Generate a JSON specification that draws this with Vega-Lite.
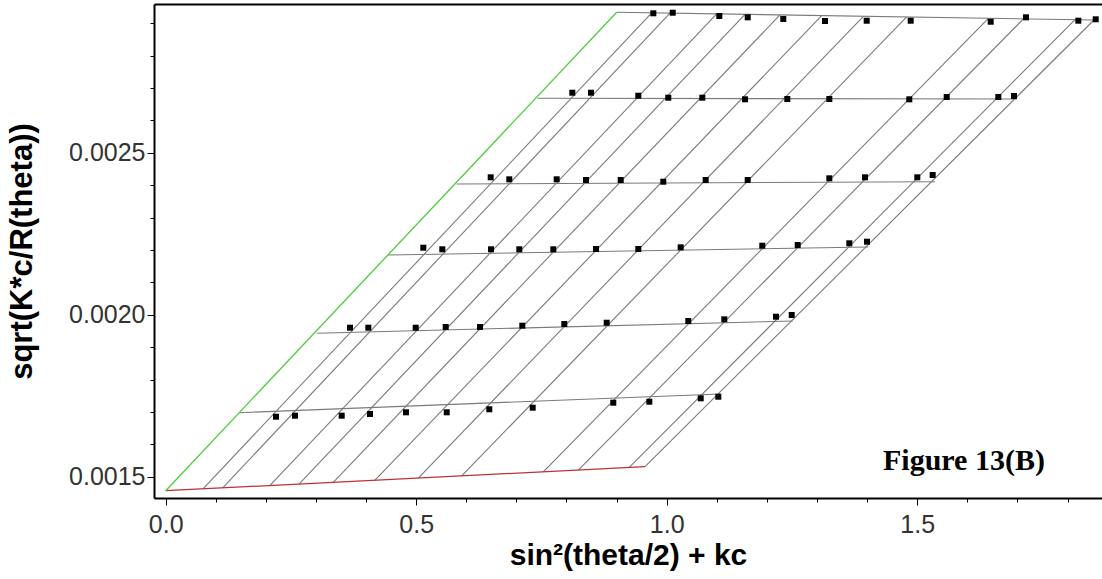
{
  "$schema": "https://vega.github.io/schema/vega-lite/v6.json",
  "width": 948,
  "height": 494,
  "autosize": {"type": "none"},
  "padding": {"left": 154, "top": 4, "right": 0, "bottom": 81},
  "background": "white",
  "config": {
    "view": {"stroke": null},
    "axis": {
      "grid": false,
      "domainColor": "black",
      "domainWidth": 2,
      "tickColor": "black",
      "tickWidth": 1,
      "labelFont": "Liberation Sans",
      "labelFontSize": 25,
      "labelColor": "#333333",
      "labelFlush": false,
      "labelOverlap": false,
      "titleFont": "Liberation Sans",
      "titleFontSize": 30,
      "titleFontWeight": "bold",
      "titleColor": "black"
    }
  },
  "datasets": {
    "lines": [
      {"g": "r1", "k": "grid", "x": 0.9002, "y": 0.0029339},
      {"g": "r1", "k": "grid", "x": 1.8529, "y": 0.0029101},
      {"g": "r2", "k": "grid", "x": 0.7425, "y": 0.0026684},
      {"g": "r2", "k": "grid", "x": 1.6986, "y": 0.0026663},
      {"g": "r3", "k": "grid", "x": 0.5808, "y": 0.0024039},
      {"g": "r3", "k": "grid", "x": 1.5355, "y": 0.002411},
      {"g": "r4", "k": "grid", "x": 0.4443, "y": 0.0021848},
      {"g": "r4", "k": "grid", "x": 1.4024, "y": 0.0022095},
      {"g": "r5", "k": "grid", "x": 0.3014, "y": 0.0019431},
      {"g": "r5", "k": "grid", "x": 1.2515, "y": 0.0019811},
      {"g": "r6", "k": "grid", "x": 0.1469, "y": 0.0016981},
      {"g": "r6", "k": "grid", "x": 1.1064, "y": 0.0017558},
      {"g": "a01", "k": "grid", "x": 0.0745, "y": 0.0014631},
      {"g": "a01", "k": "grid", "x": 0.9701, "y": 0.0029322},
      {"g": "a02", "k": "grid", "x": 0.1138, "y": 0.0014661},
      {"g": "a02", "k": "grid", "x": 1.0066, "y": 0.0029312},
      {"g": "a03", "k": "grid", "x": 0.2082, "y": 0.0014734},
      {"g": "a03", "k": "grid", "x": 1.0998, "y": 0.0029289},
      {"g": "a04", "k": "grid", "x": 0.2661, "y": 0.0014779},
      {"g": "a04", "k": "grid", "x": 1.1563, "y": 0.0029275},
      {"g": "a05", "k": "grid", "x": 0.3345, "y": 0.0014832},
      {"g": "a05", "k": "grid", "x": 1.2261, "y": 0.0029258},
      {"g": "a06", "k": "grid", "x": 0.4178, "y": 0.0014897},
      {"g": "a06", "k": "grid", "x": 1.3094, "y": 0.0029237},
      {"g": "a07", "k": "grid", "x": 0.5042, "y": 0.0014964},
      {"g": "a07", "k": "grid", "x": 1.3926, "y": 0.0029216},
      {"g": "a08", "k": "grid", "x": 0.5908, "y": 0.0015031},
      {"g": "a08", "k": "grid", "x": 1.479, "y": 0.0029194},
      {"g": "a09", "k": "grid", "x": 0.7537, "y": 0.0015157},
      {"g": "a09", "k": "grid", "x": 1.6421, "y": 0.0029154},
      {"g": "a10", "k": "grid", "x": 0.8236, "y": 0.0015211},
      {"g": "a10", "k": "grid", "x": 1.712, "y": 0.0029136},
      {"g": "a11", "k": "grid", "x": 0.9253, "y": 0.001529},
      {"g": "a11", "k": "grid", "x": 1.815, "y": 0.002911},
      {"g": "a12", "k": "grid", "x": 0.9567, "y": 0.0015314},
      {"g": "a12", "k": "grid", "x": 1.8529, "y": 0.0029101},
      {"g": "c0", "k": "c0", "x": 0, "y": 0.0014573},
      {"g": "c0", "k": "c0", "x": 0.9567, "y": 0.0015314},
      {"g": "t0", "k": "t0", "x": 0, "y": 0.0014573},
      {"g": "t0", "k": "t0", "x": 0.9002, "y": 0.0029339}
    ],
    "pts": [
      {"c": 1, "x": 0.9733, "y": 0.0029308},
      {"c": 1, "x": 1.012, "y": 0.0029326},
      {"c": 1, "x": 1.105, "y": 0.0029224},
      {"c": 1, "x": 1.1617, "y": 0.0029184},
      {"c": 1, "x": 1.2327, "y": 0.0029132},
      {"c": 1, "x": 1.316, "y": 0.002907},
      {"c": 1, "x": 1.3992, "y": 0.0029079},
      {"c": 1, "x": 1.487, "y": 0.0029079},
      {"c": 1, "x": 1.6467, "y": 0.0029048},
      {"c": 1, "x": 1.7172, "y": 0.0029184},
      {"c": 1, "x": 1.8216, "y": 0.0029079},
      {"c": 1, "x": 1.8563, "y": 0.0029123},
      {"c": 2, "x": 0.8116, "y": 0.0026857},
      {"c": 2, "x": 0.8489, "y": 0.0026857},
      {"c": 2, "x": 0.9433, "y": 0.0026764},
      {"c": 2, "x": 1.0032, "y": 0.0026703},
      {"c": 2, "x": 1.0711, "y": 0.0026703},
      {"c": 2, "x": 1.1563, "y": 0.0026653},
      {"c": 2, "x": 1.2407, "y": 0.0026663},
      {"c": 2, "x": 1.3246, "y": 0.0026663},
      {"c": 2, "x": 1.4842, "y": 0.0026653},
      {"c": 2, "x": 1.5589, "y": 0.0026724},
      {"c": 2, "x": 1.6619, "y": 0.0026724},
      {"c": 2, "x": 1.6932, "y": 0.0026755},
      {"c": 3, "x": 0.6487, "y": 0.0024246},
      {"c": 3, "x": 0.6858, "y": 0.0024184},
      {"c": 3, "x": 0.7804, "y": 0.0024184},
      {"c": 3, "x": 0.8389, "y": 0.0024163},
      {"c": 3, "x": 0.9082, "y": 0.0024163},
      {"c": 3, "x": 0.9932, "y": 0.002411},
      {"c": 3, "x": 1.0778, "y": 0.0024163},
      {"c": 3, "x": 1.1617, "y": 0.0024163},
      {"c": 3, "x": 1.3246, "y": 0.0024215},
      {"c": 3, "x": 1.3958, "y": 0.0024246},
      {"c": 3, "x": 1.5002, "y": 0.0024246},
      {"c": 3, "x": 1.5309, "y": 0.0024317},
      {"c": 4, "x": 0.5142, "y": 0.0022073},
      {"c": 4, "x": 0.5521, "y": 0.0022024},
      {"c": 4, "x": 0.6493, "y": 0.0022024},
      {"c": 4, "x": 0.7058, "y": 0.0022024},
      {"c": 4, "x": 0.7737, "y": 0.0022024},
      {"c": 4, "x": 0.8589, "y": 0.0022033},
      {"c": 4, "x": 0.9433, "y": 0.0022033},
      {"c": 4, "x": 1.0279, "y": 0.0022085},
      {"c": 4, "x": 1.1908, "y": 0.0022135},
      {"c": 4, "x": 1.2615, "y": 0.0022156},
      {"c": 4, "x": 1.3645, "y": 0.0022209},
      {"c": 4, "x": 1.3998, "y": 0.0022258},
      {"c": 5, "x": 0.3679, "y": 0.0019604},
      {"c": 5, "x": 0.4044, "y": 0.0019604},
      {"c": 5, "x": 0.499, "y": 0.0019604},
      {"c": 5, "x": 0.5589, "y": 0.0019626},
      {"c": 5, "x": 0.6273, "y": 0.0019626},
      {"c": 5, "x": 0.7118, "y": 0.0019666},
      {"c": 5, "x": 0.7956, "y": 0.0019718},
      {"c": 5, "x": 0.8802, "y": 0.0019758},
      {"c": 5, "x": 1.0431, "y": 0.0019811},
      {"c": 5, "x": 1.115, "y": 0.0019863},
      {"c": 5, "x": 1.2182, "y": 0.0019944},
      {"c": 5, "x": 1.2495, "y": 0.0019996},
      {"c": 6, "x": 0.2202, "y": 0.0016857},
      {"c": 6, "x": 0.2581, "y": 0.0016888},
      {"c": 6, "x": 0.3513, "y": 0.0016888},
      {"c": 6, "x": 0.4078, "y": 0.001694},
      {"c": 6, "x": 0.4796, "y": 0.0016993},
      {"c": 6, "x": 0.5609, "y": 0.0016993},
      {"c": 6, "x": 0.6459, "y": 0.0017086},
      {"c": 6, "x": 0.7325, "y": 0.0017135},
      {"c": 6, "x": 0.8934, "y": 0.0017289},
      {"c": 6, "x": 0.9653, "y": 0.001732},
      {"c": 6, "x": 1.0679, "y": 0.0017425},
      {"c": 6, "x": 1.103, "y": 0.0017474}
    ],
    "note": [
      {"label": "Figure 13(B)", "x": 1.4317, "y": 0.001521}
    ]
  },
  "encoding": {
    "y": {
      "field": "y", "type": "quantitative",
      "scale": {"domain": [0.0014348, 0.0029595], "nice": false, "zero": false},
      "axis": {
        "title": "sqrt(K*c/R(theta))",
        "titleFontSize": 31,
        "values": [0.0015, 0.0016, 0.0017, 0.0018, 0.0019, 0.002, 0.0021, 0.0022, 0.0023, 0.0024, 0.0025, 0.0026, 0.0027, 0.0028, 0.0029],
        "labelExpr": "round(datum.value*10000)%5==0 ? format(datum.value,'.4f') : ''",
        "tickSize": {"condition": {"test": "round(datum.value*10000)%5==0", "value": 7}, "value": 4},
        "labelPadding": 2,
        "titlePadding": 30
      }
    }
  },
  "layer": [
    {
      "data": {"name": "lines"},
      "transform": [{"filter": "datum.k === 'grid'"}],
      "mark": {"type": "line", "color": "#7a7a7a", "strokeWidth": 1.1},
      "encoding": {
        "x": {
          "field": "x", "type": "quantitative",
          "scale": {"domain": [-0.023353, 1.868862], "nice": false, "zero": false},
          "axis": {
            "orient": "bottom",
            "title": "sin²(theta/2) + kc",
            "values": [0, 0.1, 0.2, 0.3, 0.4, 0.5, 0.6, 0.7, 0.8, 0.9, 1.0, 1.1, 1.2, 1.3, 1.4, 1.5, 1.6, 1.7, 1.8],
            "labelExpr": "round(datum.value*10)%5==0 ? format(datum.value,'.1f') : ''",
            "tickSize": {"condition": {"test": "round(datum.value*10)%5==0", "value": 7}, "value": 4},
            "labelPadding": 7,
            "titlePadding": 3
          }
        },
        "detail": {"field": "g"},
        "order": {"field": "x", "type": "quantitative"}
      }
    },
    {
      "data": {"name": "lines"},
      "transform": [{"filter": "datum.k !== 'grid'"}],
      "mark": {"type": "line", "strokeWidth": 1.3},
      "encoding": {
        "x": {
          "field": "x", "type": "quantitative",
          "axis": {"orient": "top", "labels": false, "ticks": false, "title": null, "domain": true}
        },
        "detail": {"field": "g"},
        "order": {"field": "x", "type": "quantitative"},
        "color": {
          "field": "k", "type": "nominal",
          "scale": {"domain": ["c0", "t0"], "range": ["#bb3333", "#4ccc3c"]},
          "legend": null
        }
      }
    },
    {
      "data": {"name": "pts"},
      "mark": {"type": "square", "size": 36, "color": "black", "filled": true, "opacity": 1},
      "encoding": {
        "x": {"field": "x", "type": "quantitative", "axis": null}
      }
    },
    {
      "data": {"name": "note"},
      "mark": {"type": "text", "font": "Liberation Serif", "fontWeight": "bold", "fontSize": 30, "align": "left", "baseline": "alphabetic", "color": "black"},
      "encoding": {
        "x": {"field": "x", "type": "quantitative", "axis": null},
        "text": {"field": "label"}
      }
    }
  ],
  "resolve": {"axis": {"x": "independent"}}
}
